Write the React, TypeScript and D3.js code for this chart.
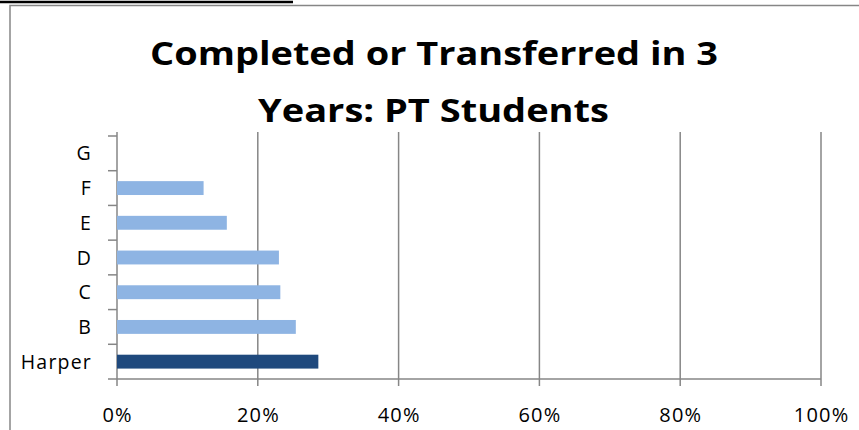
import React from "react";
import * as d3 from "d3";

const categories = ["Harper", "B", "C", "D", "E", "F", "G"];
const values = [0.286, 0.254, 0.232, 0.23, 0.156, 0.123, 0];
const xTicks = [0, 0.2, 0.4, 0.6, 0.8, 1.0];
const titleLines = ["Completed or Transferred in 3", "Years: PT Students"];

export default function App() {
  const W = 859, H = 430;
  const left = 117, right = 821, top = 136, bottom = 379;
  const x = d3.scaleLinear().domain([0, 1]).range([left, right]);
  const y = d3.scaleBand().domain(categories.slice().reverse()).range([top, bottom]).paddingInner(0.6).paddingOuter(0.3);
  const band = d3.scaleBand().domain(categories.slice().reverse()).range([top, bottom]);
  const grid = "#868686";
  const font = "'Open Sans', sans-serif";
  const titleX = [{ x: 434, w: 568, y: 65 }, { x: 433.5, w: 351, y: 122 }];
  return (
    <svg width={W} height={H} style={{ position: "absolute", left: 0, top: 0 }}>
      <rect x={0} y={0} width={W} height={H} fill="#fff" />
      <line x1={0} x2={293} y1={2} y2={2} stroke="#000" strokeWidth={2.5} />
      <path d={`M10,${H} L10,5.5 L${W},5.5`} fill="none" stroke={grid} strokeWidth={1.5} />
      {titleLines.map((t, i) => (
        <text key={i} x={titleX[i].x} y={titleX[i].y} textAnchor="middle" fontFamily={font} fontWeight="bold" fontSize={33}
          textLength={titleX[i].w} lengthAdjust="spacingAndGlyphs" fill="#000">{t}</text>
      ))}
      {xTicks.map((t) => (
        <g key={t}>
          <line x1={x(t)} x2={x(t)} y1={top - 4} y2={bottom + 7} stroke={grid} strokeWidth={1.5} />
          <text x={x(t) + 0.6} y={422} textAnchor="middle" fontFamily={font} fontSize={20} letterSpacing={1.2} fill="#000">{d3.format(".0%")(t)}</text>
        </g>
      ))}
      <line x1={left} x2={right} y1={bottom} y2={bottom} stroke={grid} strokeWidth={1.5} />
      {categories.map((c) => (
        <line key={"t" + c} x1={left - 9} x2={left} y1={(band(c) as number)} y2={(band(c) as number)} stroke={grid} strokeWidth={1.5} />
      ))}
      <line x1={left - 9} x2={left} y1={bottom} y2={bottom} stroke={grid} strokeWidth={1.5} />
      {categories.map((c, i) => (
        <rect key={c} x={x(0)} y={y(c) as number} width={x(values[i]) - x(0)} height={y.bandwidth()} fill={c === "Harper" ? "#1F497D" : "#8EB4E3"} />
      ))}
      {categories.map((c) => (
        <text key={"l" + c} x={92} y={(band(c) as number) + band.bandwidth() / 2 + 7} textAnchor="end" fontFamily={font} fontSize={19.5} letterSpacing={1.2} fill="#000">{c}</text>
      ))}
    </svg>
  );
}
